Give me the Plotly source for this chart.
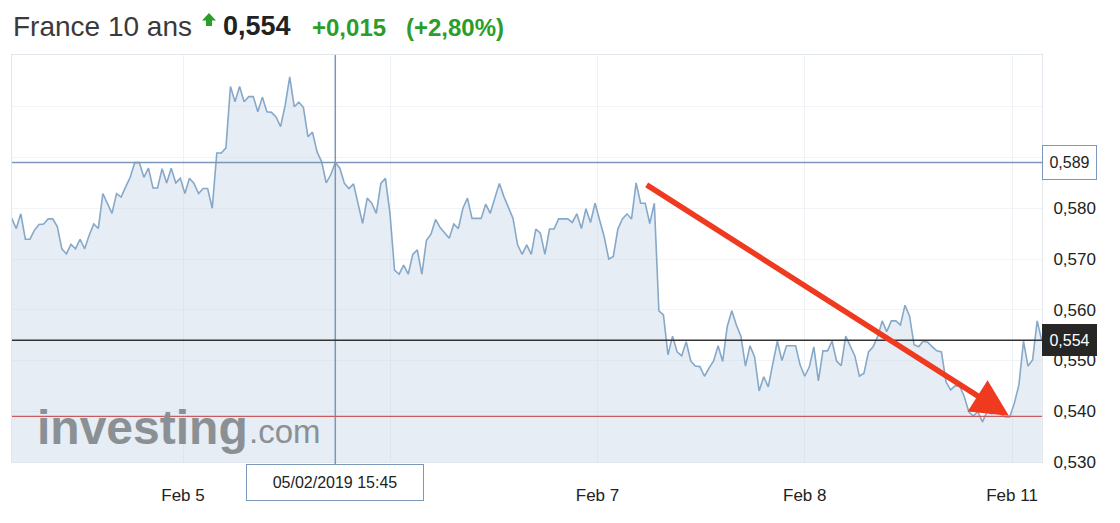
import plotly.graph_objects as go

# ---------------- data ----------------
instrument = "France 10 ans"
last_price = 0.554
change = 0.015
change_pct = 2.80
support_level = 0.539
hover_index = 71
hover_label = "05/02/2019 15:45"

# trading-day axis: Feb 4 = 0, Feb 5 = 1, ... (weekend skipped)
day_positions = [1, 2, 3, 4, 5]
day_labels = ["Feb 5", "", "Feb 7", "Feb 8", "Feb 11"]
first_time = 0.1735
last_time = 5.1433
x_range = [0.1749, 5.1447]

y_range = [0.530, 0.6102]
y_ticks = [0.53, 0.54, 0.55, 0.56, 0.57, 0.58, 0.59, 0.60]
y_tick_shown = [True, True, True, True, True, True, False, False]

yields = [
    0.5780, 0.5760, 0.5789, 0.5739, 0.5739, 0.5757, 0.5768, 0.5769, 0.5779, 0.5779,
    0.5764, 0.5720, 0.5710, 0.5729, 0.5720, 0.5739, 0.5720, 0.5747, 0.5769, 0.5760,
    0.5829, 0.5810, 0.5790, 0.5829, 0.5822, 0.5842, 0.5861, 0.5890, 0.5890, 0.5861,
    0.5879, 0.5840, 0.5840, 0.5878, 0.5850, 0.5879, 0.5850, 0.5859, 0.5829, 0.5859,
    0.5849, 0.5829, 0.5839, 0.5839, 0.5800, 0.5909, 0.5909, 0.5919, 0.6040, 0.6010,
    0.6040, 0.6010, 0.6020, 0.6020, 0.5990, 0.6019, 0.5990, 0.5989, 0.5980, 0.5961,
    0.6003, 0.6059, 0.6000, 0.6009, 0.5999, 0.5941, 0.5950, 0.5911, 0.5892, 0.5850,
    0.5866, 0.5890, 0.5879, 0.5849, 0.5839, 0.5848, 0.5810, 0.5770, 0.5820, 0.5810,
    0.5790, 0.5849, 0.5859, 0.5790, 0.5678, 0.5670, 0.5688, 0.5670, 0.5709, 0.5718,
    0.5670, 0.5737, 0.5749, 0.5778, 0.5762, 0.5751, 0.5741, 0.5769, 0.5760, 0.5800,
    0.5820, 0.5780, 0.5780, 0.5780, 0.5808, 0.5790, 0.5820, 0.5849, 0.5823, 0.5803,
    0.5780, 0.5728, 0.5709, 0.5728, 0.5709, 0.5759, 0.5751, 0.5709, 0.5759, 0.5759,
    0.5779, 0.5779, 0.5779, 0.5772, 0.5789, 0.5760, 0.5799, 0.5772, 0.5810, 0.5777,
    0.5744, 0.5700, 0.5705, 0.5759, 0.5779, 0.5789, 0.5779, 0.5850, 0.5810, 0.5810,
    0.5770, 0.5810, 0.5598, 0.5590, 0.5511, 0.5548, 0.5517, 0.5509, 0.5537, 0.5499,
    0.5489, 0.5488, 0.5469, 0.5485, 0.5499, 0.5529, 0.5498, 0.5567, 0.5598, 0.5570,
    0.5548, 0.5489, 0.5529, 0.5507, 0.5440, 0.5468, 0.5448, 0.5494, 0.5538, 0.5500,
    0.5529, 0.5529, 0.5529, 0.5491, 0.5469, 0.5487, 0.5527, 0.5460, 0.5519, 0.5519,
    0.5538, 0.5499, 0.5490, 0.5548, 0.5527, 0.5509, 0.5469, 0.5475, 0.5517, 0.5527,
    0.5547, 0.5578, 0.5557, 0.5578, 0.5578, 0.5570, 0.5609, 0.5588, 0.5531, 0.5527,
    0.5538, 0.5536, 0.5527, 0.5519, 0.5517, 0.5458, 0.5442, 0.5450, 0.5450, 0.5429,
    0.5399, 0.5391, 0.5399, 0.5379, 0.5399, 0.5395, 0.5399, 0.5394, 0.5389, 0.5389,
    0.5416, 0.5452, 0.5538, 0.5489, 0.5501, 0.5578, 0.5540,
]

trend_arrow_start = (3.23, 0.5848)
trend_arrow_end = (4.985, 0.5391)

# ---------------- figure ----------------
OFF = 8  # default page body margin
W, H = 1120 - OFF, 523 - OFF
L, T = 12 - OFF, 55 - OFF
R = W - (1042 - OFF)
B = H - (462 - OFF)
PW, PH = W - L - R, H - T - B


def px_x(px):
    """page pixel x -> paper coordinate"""
    return (px - OFF - L) / PW


def px_y(py):
    """page pixel y -> paper coordinate"""
    return (H - B - (py - OFF)) / PH


def fr(v, nd=3):
    return f"{v:.{nd}f}".replace(".", ",")


n = len(yields)
step = (last_time - first_time) / (n - 1)
times = [first_time + i * step for i in range(n)]

FONT = "Liberation Sans, Arial, Helvetica, sans-serif"
LINE_C = "#86a8c9"
CROSS_C = "#7b98b9"
GREEN = "#2a9d2a"
RED_ARROW = "#f03a1f"

fig = go.Figure()
fig.add_trace(go.Scatter(
    x=times, y=yields, mode="lines",
    line=dict(color=LINE_C, width=1.6),
    fill="tozeroy", fillcolor="rgba(200,216,232,0.45)",
    hoverinfo="skip",
))

hx, hy = times[hover_index], yields[hover_index]

shapes = [
    dict(type="line", xref="paper", yref="y", x0=0, x1=1, y0=hy, y1=hy,
         line=dict(color=CROSS_C, width=1.5)),
    dict(type="line", xref="x", yref="paper", x0=hx, x1=hx, y0=-0.005, y1=1,
         line=dict(color=CROSS_C, width=1.5)),
    dict(type="line", xref="paper", yref="y", x0=0, x1=1, y0=last_price, y1=last_price,
         line=dict(color="#333333", width=1.5)),
    dict(type="line", xref="paper", yref="y", x0=0, x1=1, y0=support_level, y1=support_level,
         line=dict(color="#c95b5e", width=1.2)),
]

# green up icon in header
icon = [(209, 13), (216, 20.5), (212, 20.5), (212, 26), (206, 26), (206, 20.5), (202, 20.5)]
path = "M " + " L ".join(f"{px_x(a):.5f},{px_y(b):.5f}" for a, b in icon) + " Z"
shapes.append(dict(type="path", xref="paper", yref="paper", path=path,
                   fillcolor=GREEN, line=dict(width=0)))

annotations = [
    dict(xref="paper", yref="paper", x=px_x(11), y=px_y(26), xanchor="left", yanchor="middle",
         text=instrument, showarrow=False, font=dict(family=FONT, size=28, color="#3a3a3a")),
    dict(xref="paper", yref="paper", x=px_x(221), y=px_y(26), xanchor="left", yanchor="middle",
         text=f"<b>{fr(last_price)}</b>", showarrow=False,
         font=dict(family=FONT, size=27, color="#222222")),
    dict(xref="paper", yref="paper", x=px_x(310), y=px_y(27), xanchor="left", yanchor="middle",
         text=f"<b>+{fr(change)}</b>", showarrow=False,
         font=dict(family=FONT, size=24, color=GREEN)),
    dict(xref="paper", yref="paper", x=px_x(404), y=px_y(27), xanchor="left", yanchor="middle",
         text=f"<b>(+{fr(change_pct, 2)}%)</b>", showarrow=False,
         font=dict(family=FONT, size=24, color=GREEN)),
    # watermark
    dict(xref="paper", yref="paper", x=px_x(35), y=px_y(427), xanchor="left", yanchor="middle",
         text="<b>investing</b>", showarrow=False,
         font=dict(family=FONT, size=48, color="#8b9095")),
    dict(xref="paper", yref="paper", x=px_x(247), y=px_y(431), xanchor="left", yanchor="middle",
         text=".com", showarrow=False,
         font=dict(family=FONT, size=33, color="#8b9095")),
    # crosshair value box
    dict(xref="paper", yref="y", x=1.0, y=hy, xanchor="left", yanchor="middle",
         text=fr(hy), showarrow=False, width=47, height=27, borderpad=3,
         bgcolor="white", bordercolor=CROSS_C, borderwidth=1,
         font=dict(family=FONT, size=16, color="#222222")),
    # last price box
    dict(xref="paper", yref="y", x=1.0, y=last_price, xanchor="left", yanchor="middle",
         text=fr(last_price), showarrow=False, width=47, height=24, borderpad=3,
         bgcolor="#262626", bordercolor="#262626", borderwidth=1,
         font=dict(family=FONT, size=16, color="white")),
    # crosshair date box
    dict(xref="x", yref="paper", x=hx, y=px_y(464), xanchor="center", yanchor="top",
         text=hover_label, showarrow=False, width=170, height=29, borderpad=3,
         bgcolor="white", bordercolor=CROSS_C, borderwidth=1,
         font=dict(family=FONT, size=16, color="#222222")),
    # red trend arrow
    dict(xref="x", yref="y", axref="x", ayref="y",
         x=trend_arrow_end[0], y=trend_arrow_end[1],
         ax=trend_arrow_start[0], ay=trend_arrow_start[1],
         text="", showarrow=True, arrowhead=2, arrowsize=1.35, arrowwidth=5.5,
         arrowcolor=RED_ARROW, standoff=0),
]

fig.update_layout(
    width=W, height=H,
    margin=dict(l=L, r=R, t=T, b=B, autoexpand=False),
    paper_bgcolor="white", plot_bgcolor="white",
    showlegend=False, hovermode=False,
    font=dict(family=FONT, size=16, color="#222222"),
    shapes=shapes, annotations=annotations,
)
fig.update_xaxes(
    range=x_range, tickmode="array", tickvals=day_positions, ticktext=day_labels,
    showgrid=True, gridcolor="#eef1f5", gridwidth=1, zeroline=False,
    showline=True, linecolor="#e2e7ed", mirror=True, ticks="",
    tickfont=dict(family=FONT, size=17, color="#222222"), ticklabelstandoff=18,
)
fig.update_yaxes(
    range=y_range, side="right", tickmode="array", tickvals=y_ticks,
    ticktext=[fr(v) if s else "" for v, s in zip(y_ticks, y_tick_shown)],
    showgrid=True, gridcolor="#f1f3f6", gridwidth=1, zeroline=False,
    showline=True, linecolor="#e2e7ed", mirror=True, ticks="",
    tickfont=dict(family=FONT, size=17, color="#222222"), ticklabelstandoff=7,
)

fig.write_html("out.html")
